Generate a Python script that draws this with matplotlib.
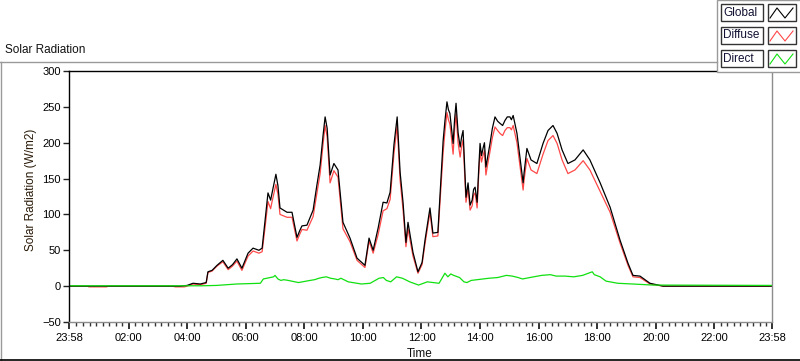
import matplotlib
matplotlib.use("Agg")
import matplotlib.pyplot as plt
import numpy as np
from matplotlib.lines import Line2D
from matplotlib.patches import Rectangle

plt.rcParams['font.family'] = ['Liberation Sans', 'DejaVu Sans']
plt.rcParams['font.size'] = 8

# time in hours of day (23:58 of previous day = -2/60)
T0 = -2 / 60
T1 = 24 - 2 / 60

global_t = [T0, 3.0, 3.76, 4.0, 4.20, 4.45, 4.65, 4.71, 4.85, 5.02, 5.22, 5.40, 5.55, 5.70, 5.87,
            6.08, 6.25, 6.45, 6.56, 6.66, 6.76, 6.85, 6.90, 7.03, 7.10, 7.17, 7.41, 7.58, 7.75,
            7.85, 7.92, 8.09, 8.30, 8.43, 8.54, 8.64, 8.71, 8.78, 8.88, 9.01, 9.15, 9.32, 9.56,
            9.80, 10.07, 10.21, 10.35, 10.52, 10.69, 10.82, 10.93, 11.06, 11.17, 11.27, 11.37,
            11.47, 11.54, 11.71, 11.88, 12.02, 12.12, 12.29, 12.39, 12.56, 12.74, 12.80, 12.87,
            12.92, 12.97, 13.02, 13.08, 13.13, 13.18, 13.25, 13.32, 13.37, 13.42, 13.47, 13.52,
            13.59, 13.66, 13.73, 13.78, 13.83, 13.90, 13.95, 14.00, 14.05, 14.10, 14.15, 14.20,
            14.26, 14.34, 14.42, 14.51, 14.60, 14.68, 14.77, 14.85, 14.93, 15.02, 15.07, 15.13,
            15.26, 15.33, 15.47, 15.50, 15.60, 15.74, 15.94, 16.15, 16.32, 16.49, 16.63, 16.80,
            17.00, 17.24, 17.52, 17.75, 18.10, 18.44, 18.78, 19.05, 19.22, 19.46, 19.80, 20.25, T1]
global_v = [0, 0, 0, 1, 4, 3, 5, 20, 22, 29, 36, 25, 30, 38, 25,
            46, 53, 50, 53, 92, 130, 120, 130, 156, 140, 109, 103, 103, 68,
            78, 84, 85, 106, 141, 169, 210, 236, 220, 155, 171, 162, 89, 67,
            39, 29, 67, 50, 81, 117, 116, 131, 197, 236, 159, 117,
            61, 89, 47, 20, 33, 64, 109, 74, 75, 203, 230, 257,
            246, 241, 222, 199, 232, 255, 214, 194, 208, 217, 170, 124,
            144, 113, 120, 135, 138, 117, 160, 199, 182, 192, 200, 166,
            180, 199, 220, 236, 230, 227, 224, 231, 236, 236, 232, 238,
            213, 190, 144, 157, 192, 176, 171, 199, 217, 224, 213, 190,
            171, 176, 190, 176, 144, 110, 64, 32, 15, 14, 4, 0, 0]

diffuse_t = [T0, 0.6, 0.65, 1.25, 1.3, 3.5, 3.6, 3.9, 4.0, 4.20, 4.45, 4.65, 4.71, 4.85, 5.02,
             5.22, 5.40, 5.55, 5.70, 5.87, 6.08, 6.25, 6.45, 6.56, 6.66, 6.76, 6.85, 6.90, 7.03,
             7.10, 7.17, 7.41, 7.58, 7.75, 7.85, 7.92, 8.09, 8.30, 8.43, 8.54, 8.64, 8.71, 8.78,
             8.88, 9.01, 9.15, 9.32, 9.56, 9.80, 10.07, 10.21, 10.35, 10.52, 10.69, 10.82, 10.93,
             11.06, 11.17, 11.27, 11.37, 11.47, 11.54, 11.71, 11.88, 12.02, 12.12, 12.29, 12.39,
             12.56, 12.74, 12.80, 12.87, 12.92, 12.97, 13.02, 13.08, 13.13, 13.18, 13.25, 13.32,
             13.37, 13.42, 13.47, 13.52, 13.59, 13.66, 13.73, 13.78, 13.83, 13.90, 13.95, 14.00,
             14.05, 14.10, 14.15, 14.20, 14.26, 14.34, 14.42, 14.51, 14.60, 14.68, 14.77, 14.85,
             14.93, 15.02, 15.07, 15.13, 15.26, 15.33, 15.47, 15.50, 15.60, 15.74, 15.94, 16.15,
             16.32, 16.49, 16.63, 16.80, 17.00, 17.24, 17.52, 17.75, 18.10, 18.44, 18.78, 19.05,
             19.22, 19.46, 19.80, 20.25, T1]
diffuse_v = [0, 0, -1, -1, 0, 0, -1, -1, 0, 3, 2, 4, 19, 21, 28,
             34, 23, 28, 35, 22, 42, 49, 46, 48, 82, 118, 108, 118, 142,
             128, 100, 96, 96, 63, 73, 79, 78, 97, 130, 157, 198, 224, 208,
             144, 161, 152, 80, 62, 36, 26, 63, 46, 72, 105, 108, 121,
             185, 224, 148, 107, 55, 80, 42, 18, 30, 59, 103, 69,
             70, 187, 215, 242, 232, 226, 208, 184, 218, 240, 200, 180,
             195, 204, 160, 117, 136, 106, 112, 127, 130, 109, 152, 189,
             173, 182, 189, 155, 170, 188, 207, 222, 217, 213, 210, 217,
             221, 221, 218, 224, 200, 178, 134, 147, 178, 162, 157, 184,
             203, 210, 199, 176, 157, 162, 175, 162, 132, 103, 60, 29,
             13, 12, 3, 0, 0]

direct_t = [T0, 4.5, 5.0, 5.7, 6.5, 6.6, 6.95, 7.0, 7.1, 7.2, 7.3, 7.45, 7.8, 8.2, 8.35, 8.5,
            8.6, 8.75, 8.9, 9.05, 9.15, 9.25, 9.5, 9.95, 10.25, 10.55, 10.7, 10.8, 10.95, 11.15,
            11.35, 11.6, 11.9, 12.2, 12.6, 12.8, 12.9, 13.0, 13.1, 13.3, 13.45, 13.55, 13.7,
            13.9, 14.3, 14.6, 14.9, 15.1, 15.3, 15.45, 15.7, 16.1, 16.4, 16.6, 16.9, 17.2, 17.5,
            17.83, 17.9, 18.1, 18.3, 18.7, 19.2, 19.9, T1]
direct_v = [0.5, 0.5, 1, 3, 4, 10, 13, 15, 10, 8, 9, 8, 5, 8, 9, 11,
            12, 13, 11, 10, 9, 11, 6, 3, 4, 11, 12, 8, 6, 13,
            11, 6, 1.5, 6, 4, 18, 13, 17, 15, 12, 6, 5, 8,
            9, 11, 12, 15, 14, 12, 10, 12, 15, 16, 14, 14, 13, 15,
            20, 16, 13, 7, 4, 3, 1.5, 1]

tick_pos = [T0, 2, 4, 6, 8, 10, 12, 14, 16, 18, 20, 22, T1]
tick_labels = ["23:58", "02:00", "04:00", "06:00", "08:00", "10:00", "12:00",
               "14:00", "16:00", "18:00", "20:00", "22:00", "23:58"]

W, H = 800, 361
fig = plt.figure(figsize=(W / 100, H / 100), dpi=100)
fig.patch.set_facecolor('white')


def fx(x):
    return x / W


def fy(y):
    return 1 - y / H


ax = fig.add_axes([fx(69), fy(322), 703 / W, 251 / H])
ax.plot(diffuse_t, diffuse_v, color='#ff4848', lw=0.9)
ax.plot(global_t, global_v, color='black', lw=0.9)
ax.plot(direct_t, direct_v, color='#10e010', lw=0.9)

ax.set_xlim(T0, T1)
ax.set_ylim(-50, 300)
ax.set_yticks(range(-50, 301, 50))
ax.set_xticks(tick_pos)
ax.set_xticklabels(tick_labels)
minor = [m for m in np.arange(0, 24.001, 2 / 9) if min(abs(m - p) for p in tick_pos) > 0.05]
ax.set_xticks(minor, minor=True)
ax.tick_params(axis='y', length=4, width=1, pad=2, color='#222222', labelsize=8)
ax.tick_params(axis='x', which='major', length=5, width=1.3, pad=3, color='#222222', labelsize=8)
ax.tick_params(axis='x', which='minor', length=3, width=1, color='#333333')
for s in ['left', 'top']:
    ax.spines[s].set_color('black')
for s in ['right', 'bottom']:
    ax.spines[s].set_color('#8c8c8c')
for s in ax.spines.values():
    s.set_linewidth(1)

fig.text(fx(5), fy(50), "Solar Radiation", ha='left', va='center', fontsize=8.5, color='#111111')
fig.text(fx(31), fy(190), "Solar Radiation (W/m2)", rotation=90, ha='center', va='center',
         fontsize=8.5, color='#2a1a08')
fig.text(fx(420), fy(354), "Time", ha='center', va='center', fontsize=8.5, color='#111111')

# panel border
fig.add_artist(Line2D([fx(0.5), fx(0.5)], [fy(62), fy(361)], color='#9a9a9a', lw=1))
fig.add_artist(Line2D([fx(0), fx(717)], [fy(62), fy(62)], color='#9a9a9a', lw=1))
fig.add_artist(Line2D([fx(0), fx(800)], [fy(359.5), fy(359.5)], color='black', lw=1.2))

# legend
fig.add_artist(Rectangle((fx(717), fy(72)), fx(90), 72 / H, facecolor='white',
                         edgecolor='#9a9a9a', lw=1))
names = ["Global", "Diffuse", "Direct"]
colors = ['black', '#ff4848', '#10e010']
tops = [4, 27, 50]
for name, col, top in zip(names, colors, tops):
    fig.add_artist(Rectangle((fx(721), fy(top + 17)), 42 / W, 17 / H, facecolor='white',
                             edgecolor='#333333', lw=1))
    fig.text(fx(723), fy(top + 8.5), name, ha='left', va='center', fontsize=8.5, color='#111133')
    fig.add_artist(Rectangle((fx(768), fy(top + 17)), 28 / W, 17 / H, facecolor='white',
                             edgecolor='#333333', lw=1))
    zx = [770, 777, 785, 793]
    zy = [top + 14, top + 4, top + 14, top + 4]
    fig.add_artist(Line2D([fx(v) for v in zx], [fy(v) for v in zy], color=col, lw=0.8))

fig.savefig("out.png", dpi=100)
